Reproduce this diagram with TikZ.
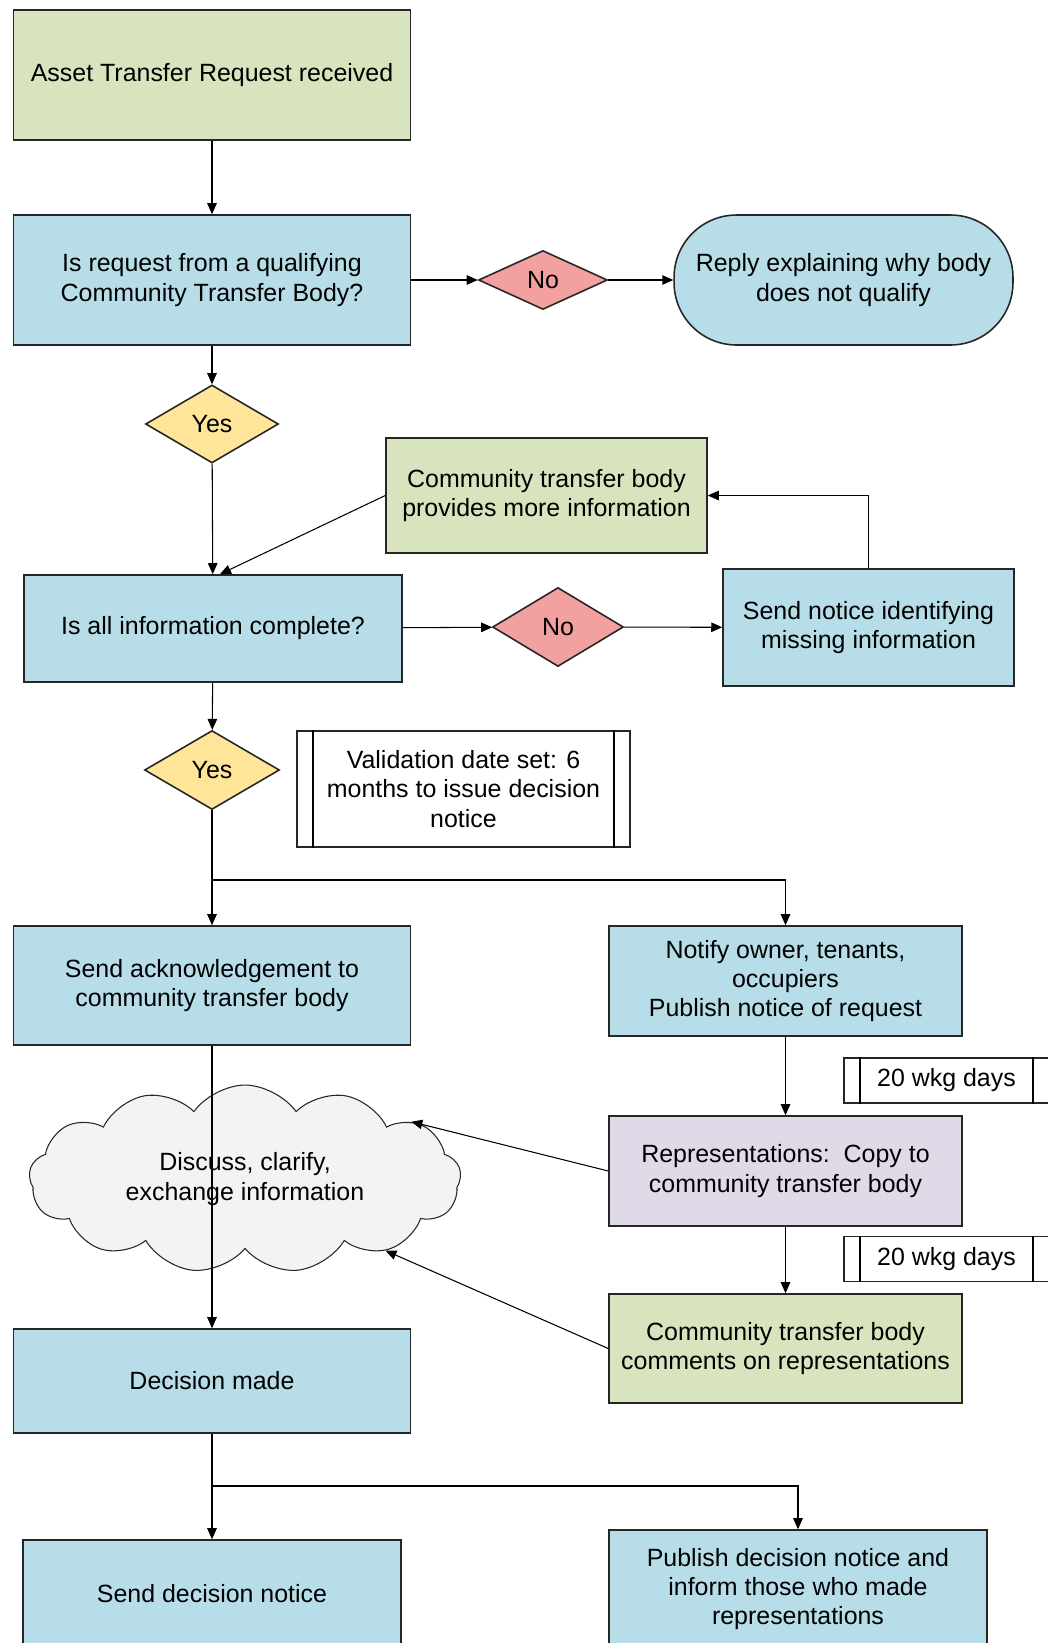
\documentclass[tikz,border=0pt]{standalone}
\usepackage{fontspec}
\setmainfont{Liberation Sans}
\usetikzlibrary{shapes.geometric,shapes.symbols,arrows.meta}
\definecolor{boxblue}{RGB}{183,221,232}
\definecolor{boxgreen}{RGB}{215,228,189}
\definecolor{boxlilac}{RGB}{224,218,232}
\definecolor{nored}{RGB}{242,160,160}
\definecolor{yesyellow}{RGB}{255,229,153}
\definecolor{cloudgrey}{RGB}{243,243,243}
\tikzset{
  sz/.style 2 args={minimum width=#1cm,minimum height=#2cm},
  box/.style={draw=black!85,line width=0.9pt,align=center,inner sep=2pt,font=\fontsize{14.2}{16.7}\selectfont},
  bluebox/.style={box,fill=boxblue},
  greenbox/.style={box,fill=boxgreen},
  lilacbox/.style={box,fill=boxlilac},
  notebox/.style={box,fill=white},
  nodiamond/.style={box,shape=diamond,fill=nored,inner sep=0pt},
  yesdiamond/.style={box,shape=diamond,fill=yesyellow,inner sep=0pt},
  talk/.style={box,shape=cloud,cloud puffs=13,cloud puff arc=110,cloud ignores aspect,fill=cloudgrey,line width=0.6pt},
  link/.style={draw=black,line width=0.6pt,-{Triangle[length=2.2mm,width=1.9mm]}}
}
\begin{document}
\begin{tikzpicture}[x=0.02cm,y=-0.02cm]
\useasboundingbox (0,0) rectangle (1048,1643);
\path (212,75) node[greenbox,sz={7.94}{2.6}](asset){Asset Transfer Request received}
  (212,280) node[bluebox,sz={7.94}{2.6}](qual){Is request from a qualifying\\Community Transfer Body?}
  (543,280) node[nodiamond,sz={2.58}{1.18}](no1){No}
  (843.5,280) node[bluebox,sz={6.78}{2.6},rounded corners=1.25cm](reply){Reply explaining why body\\does not qualify}
  (212,424) node[yesdiamond,sz={2.66}{1.56}](yes1){Yes}
  (546.5,495.5) node[greenbox,sz={6.42}{2.3}](more){Community transfer body\\provides more information}
  (213,628.5) node[bluebox,sz={7.56}{2.14}](complete){Is all information complete?}
  (558,627) node[nodiamond,sz={2.62}{1.58}](no2){No}
  (868.5,627.5) node[bluebox,sz={5.82}{2.34}](missing){Send notice identifying\\missing information}
  (212,770) node[yesdiamond,sz={2.7}{1.58}](yes2){Yes}
  (463.5,789) node[notebox,sz={6.66}{2.32}](valid){Validation date set: 6\\months to issue decision\\notice}
  (212,985.5) node[bluebox,sz={7.94}{2.38}](ack){Send acknowledgement to\\community transfer body}
  (785.5,981) node[bluebox,sz={7.06}{2.2}](notify){Notify owner, tenants,\\occupiers\\Publish notice of request}
  (946.5,1080.5) node[notebox,sz={4.1}{0.9}](days1){20 wkg days}
  (245,1179) node[talk,sz={8.64}{3.76}](cloud){Discuss, clarify,\\exchange information}
  (785.5,1171) node[lilacbox,sz={7.06}{2.2}](repr){Representations:\ \ Copy to\\community transfer body}
  (946.5,1259) node[notebox,sz={4.1}{0.9}](days2){20 wkg days}
  (785.5,1348.5) node[greenbox,sz={7.06}{2.18}](comments){Community transfer body\\comments on representations}
  (212,1381) node[bluebox,sz={7.94}{2.08}](decision){Decision made}
  (212,1594) node[bluebox,sz={7.56}{2.16}](senddec){Send decision notice}
  (798,1589) node[bluebox,sz={7.56}{2.36}](publish){Publish decision notice and\\inform those who made\\representations};
\foreach \n in {valid,days1,days2}
  \draw[line width=0.9pt] ([xshift=0.34cm]\n.north west) -- ([xshift=0.34cm]\n.south west)
    ([xshift=-0.34cm]\n.north east) -- ([xshift=-0.34cm]\n.south east);
\coordinate (fork1) at (212,880);
\coordinate (fork2) at (212,1486);

\draw[link] (asset) -- (qual);
\draw[link] (qual) -- (no1);
\draw[link] (no1) -- (reply);
\draw[link] (qual) -- (yes1);
\draw[link] (yes1) -- (complete);
\draw[link] (more.west) -- ([xshift=0.14cm]complete.north);
\draw[link] (complete) -- (no2);
\draw[link] (no2) -- (missing);
\draw[link] (missing.north) |- (more.east);
\draw[link] (complete) -- (yes2);
\draw[link] (yes2) -- (ack);
\draw[link] (fork1) -| (notify.north);
\draw[link] (notify) -- (repr);
\draw[link] (repr) -- (comments);
\draw[link] (repr.west) -- (cloud.19);
\draw[link] (comments.west) -- (cloud.-27);
\draw[link] (ack) -- (decision);
\draw[link] (decision) -- (senddec);
\draw[link] (fork2) -| (publish.north);
\end{tikzpicture}
\end{document}
